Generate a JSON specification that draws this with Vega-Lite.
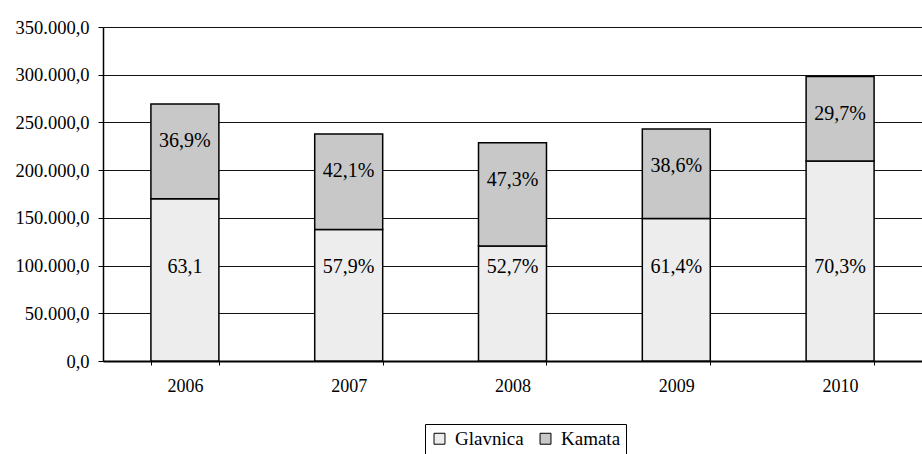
{
  "$schema": "https://vega.github.io/schema/vega-lite/v6.json",
  "autosize": {"type": "none"},
  "width": 819,
  "height": 334,
  "padding": {"left": 103, "top": 27, "right": 0, "bottom": 93},
  "background": "white",
  "config": {
    "locale": {"number": {"decimal": ",", "thousands": ".", "grouping": [3], "currency": ["", ""]}},
    "view": {"stroke": null},
    "font": "'Times New Roman', 'Liberation Serif', serif",
    "axis": {"labelFont": "'Times New Roman', 'Liberation Serif', serif", "labelColor": "black", "domainColor": "black", "tickColor": "black"}
  },
  "data": {
    "values": [
      {"year": "2006", "series": "Glavnica", "value": 170000, "label": "63,1"},
      {"year": "2006", "series": "Kamata", "value": 99400, "label": "36,9%"},
      {"year": "2007", "series": "Glavnica", "value": 137800, "label": "57,9%"},
      {"year": "2007", "series": "Kamata", "value": 100200, "label": "42,1%"},
      {"year": "2008", "series": "Glavnica", "value": 120600, "label": "52,7%"},
      {"year": "2008", "series": "Kamata", "value": 108200, "label": "47,3%"},
      {"year": "2009", "series": "Glavnica", "value": 149200, "label": "61,4%"},
      {"year": "2009", "series": "Kamata", "value": 93800, "label": "38,6%"},
      {"year": "2010", "series": "Glavnica", "value": 209500, "label": "70,3%"},
      {"year": "2010", "series": "Kamata", "value": 88500, "label": "29,7%"}
    ]
  },
  "layer": [
    {
      "mark": {"type": "bar", "stroke": "black", "strokeWidth": 1.5},
      "encoding": {
        "x": {
          "field": "year", "type": "ordinal",
          "scale": {"paddingInner": 0.585, "paddingOuter": 0.2925},
          "axis": {"title": null, "labelAngle": 0, "labelFontSize": 18, "labelPadding": 12, "tickBand": "extent", "tickSize": 4, "domainWidth": 2, "grid": false}
        },
        "y": {
          "field": "value", "type": "quantitative", "stack": "zero",
          "scale": {"domain": [0, 350000], "nice": false},
          "axis": {"title": null, "values": [0, 50000, 100000, 150000, 200000, 250000, 300000, 350000], "format": ",.1f", "labelFontSize": 18.5, "labelPadding": 9, "tickSize": 5, "grid": true, "gridColor": "#111111", "gridWidth": 1, "gridOpacity": 1, "domainWidth": 1.5}
        },
        "color": {
          "field": "series", "type": "nominal",
          "scale": {"domain": ["Glavnica", "Kamata"], "range": ["#ededed", "#c8c8c8"]},
          "legend": {
            "title": null, "orient": "none", "legendX": 322, "legendY": 397, "direction": "horizontal",
            "strokeColor": "black", "fillColor": "white", "padding": 5,
            "symbolType": "square", "symbolSize": 120, "symbolStrokeColor": "black", "symbolStrokeWidth": 1,
            "labelFont": "'Times New Roman', 'Liberation Serif', serif", "labelFontSize": 19, "labelColor": "black", "columnPadding": 12, "labelOffset": 6
          }
        },
        "order": {"field": "series"}
      }
    },
    {
      "transform": [{"filter": "datum.series === 'Glavnica'"}],
      "mark": {"type": "text", "font": "'Times New Roman', 'Liberation Serif', serif", "fontSize": 20, "color": "black", "baseline": "middle"},
      "encoding": {
        "x": {"field": "year", "type": "ordinal"},
        "y": {"datum": 98500, "type": "quantitative"},
        "text": {"field": "label"}
      }
    },
    {
      "transform": [
        {"stack": "value", "groupby": ["year"], "sort": [{"field": "series"}], "as": ["v0", "v1"]},
        {"filter": "datum.series === 'Kamata'"}
      ],
      "mark": {"type": "text", "font": "'Times New Roman', 'Liberation Serif', serif", "fontSize": 20, "color": "black", "baseline": "middle", "dy": 37},
      "encoding": {
        "x": {"field": "year", "type": "ordinal"},
        "y": {"field": "v1", "type": "quantitative"},
        "text": {"field": "label"}
      }
    }
  ]
}
